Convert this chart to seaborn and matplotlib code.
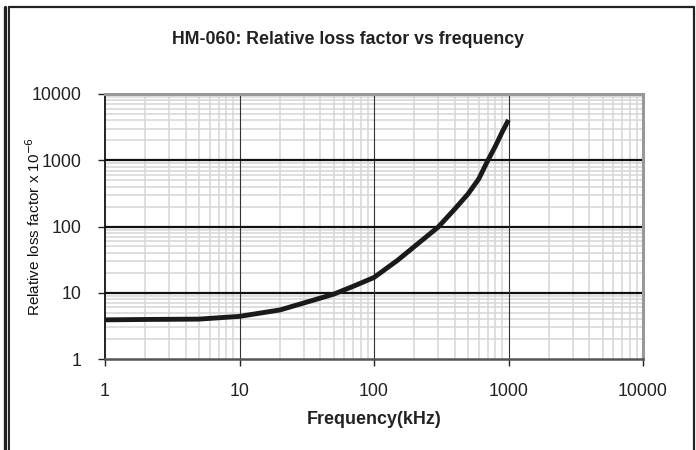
import pandas as pd
import seaborn as sns
import numpy as np
import matplotlib.pyplot as plt
from matplotlib.ticker import LogLocator, FixedLocator, FixedFormatter, NullFormatter
from matplotlib.lines import Line2D

# values
freq_khz = [1, 2, 5, 10, 20, 30, 50, 70, 100, 150, 200, 300, 400, 500, 600, 700, 800, 900, 1000]
loss_factor = [3.9, 3.95, 4.0, 4.4, 5.5, 7.0, 9.5, 12.5, 17, 31, 50, 98, 185, 310, 520, 980, 1640, 2700, 4050]
tick_vals = [1, 10, 100, 1000, 10000]
tick_labels = ['1', '10', '100', '1000', '10000']

df = pd.DataFrame({'freq': freq_khz, 'loss': loss_factor})

sns.set_theme(style="white")
plt.rcParams['font.family'] = ['Liberation Sans', 'DejaVu Sans']

fig = plt.figure(figsize=(6.96, 4.5), dpi=100)
ax = fig.add_axes([105/696, 1 - 359/450, 538/696, 265/450])

ax.set_xscale('log')
ax.set_yscale('log')
ax.set_xlim(1, 10000)
ax.set_ylim(1, 10000)

# minor grid (light), major grid drawn on top of it
ax.xaxis.set_minor_locator(LogLocator(base=10, subs=np.arange(2, 10)))
ax.yaxis.set_minor_locator(LogLocator(base=10, subs=np.arange(2, 10)))
ax.xaxis.set_minor_formatter(NullFormatter())
ax.yaxis.set_minor_formatter(NullFormatter())
ax.grid(which='minor', color='#d6d6d6', linewidth=1.1)
ax.grid(which='major', visible=False)
for v in tick_vals[1:-1]:
    ax.axvline(v, color='#333333', linewidth=0.8, zorder=2)
    ax.axhline(v, color='#111111', linewidth=1.6, zorder=2)

ax.xaxis.set_major_locator(FixedLocator(tick_vals))
ax.xaxis.set_major_formatter(FixedFormatter(tick_labels))
ax.yaxis.set_major_locator(FixedLocator(tick_vals))
ax.yaxis.set_major_formatter(FixedFormatter(tick_labels))

sns.lineplot(data=df, x='freq', y='loss', ax=ax, color='#1a1a1a', linewidth=3.5,
             solid_capstyle='butt', zorder=5)

ax.tick_params(which='major', direction='out', length=5, width=1, color='#222222',
               labelsize=12.8, labelcolor='#222222', bottom=True, left=True)
ax.tick_params(axis='x', pad=12)
ax.tick_params(axis='y', pad=12)
ax.tick_params(which='minor', length=0)

for s in ['top', 'right']:
    ax.spines[s].set_color('#999999')
    ax.spines[s].set_linewidth(2.2)
ax.spines['left'].set_color('#111111')
ax.spines['left'].set_linewidth(1.3)
ax.spines['bottom'].set_color('#555555')
ax.spines['bottom'].set_linewidth(1.8)
ax.set_axisbelow(True)

ax.set_xlabel('Frequency(kHz)', fontsize=12.9, fontweight='bold', color='#222222', labelpad=8)
ax.set_ylabel('Relative loss factor x 10$^{-6}$', fontsize=11, color='#111111')
ax.yaxis.set_label_coords(-62/538, 0.5)

fig.text(348/696, 1 - 39/450, 'HM-060: Relative loss factor vs frequency', ha='center', va='center',
         fontsize=12.8, fontweight='bold', color='#222222')

# outer frame
fig.add_artist(Line2D([4.5/696, 4.5/696], [0, 1 - 7/450], transform=fig.transFigure, color='#222222', linewidth=2.4))
fig.add_artist(Line2D([9/696, 9/696], [0, 1 - 7/450], transform=fig.transFigure, color='#222222', linewidth=1.4))
fig.add_artist(Line2D([9/696, 694/696], [1 - 7/450, 1 - 7/450], transform=fig.transFigure, color='#222222', linewidth=1.6))
fig.add_artist(Line2D([694/696, 694/696], [0, 1 - 7/450], transform=fig.transFigure, color='#222222', linewidth=1.6))

fig.savefig('out.png', dpi=100)
